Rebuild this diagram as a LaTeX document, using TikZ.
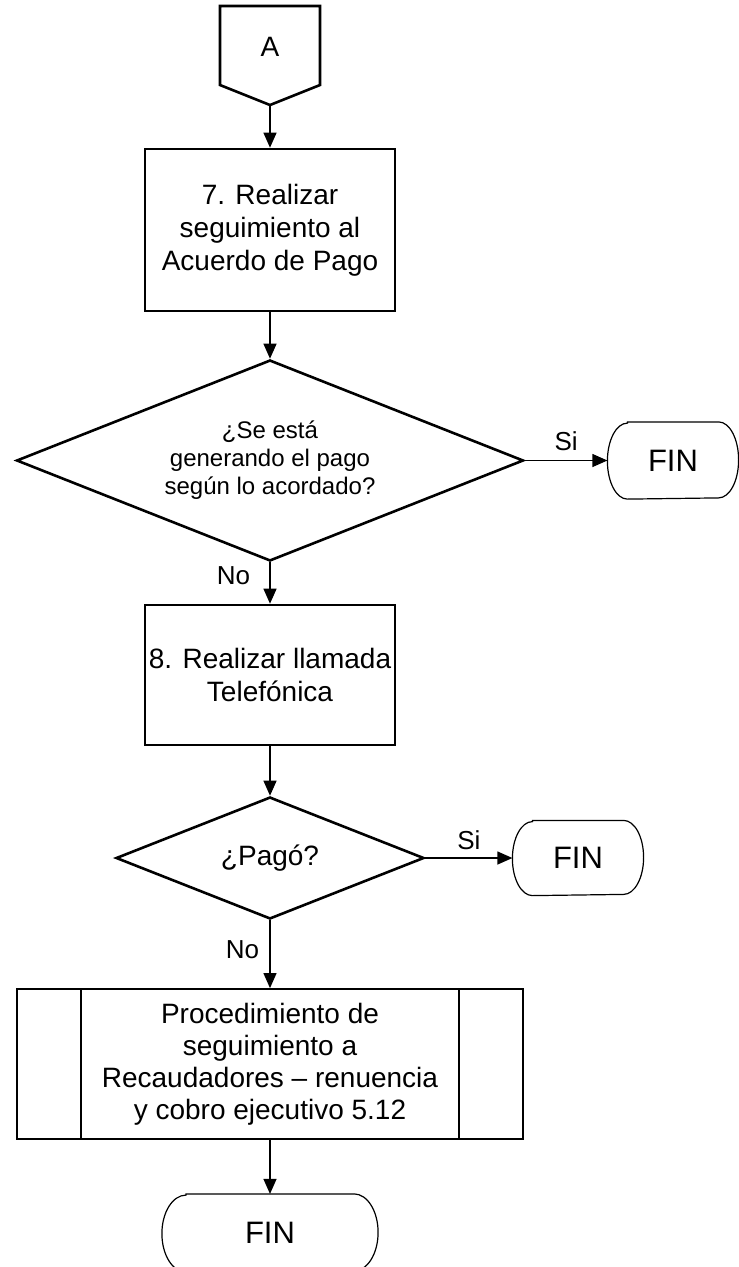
\documentclass[tikz,border=0pt]{standalone}
\usepackage{fontspec}
\setmainfont{Liberation Sans}
\usetikzlibrary{shapes.geometric,arrows.meta}

\tikzset{
  proc/.style={rectangle, draw, line width=2.6pt, inner sep=0pt, minimum width=250pt,
    align=center, font=\fontsize{28}{33}\selectfont},
  dec/.style={diamond, draw, line width=2.6pt, inner sep=0pt, aspect=2.52, align=center},
  fin/.style={rectangle, inner sep=0pt, outer sep=0.6pt, font=\fontsize{31}{36}\selectfont},
  subproc/.style={rectangle, draw, line width=1.8pt, inner sep=0pt, align=center,
    font=\fontsize{28}{32}\selectfont,
    path picture={
      \draw[line width=1.8pt] ([xshift=64pt]path picture bounding box.north west) -- ([xshift=64pt]path picture bounding box.south west);
      \draw[line width=1.8pt] ([xshift=-64pt]path picture bounding box.north east) -- ([xshift=-64pt]path picture bounding box.south east);
    }},
  lbl/.style={font=\fontsize{26}{30}\selectfont},
  flow/.style={->, line width=1.2pt}
}
% terminator outline: node name, end radius, half height
\newcommand{\finborder}[3]{%
  \draw[line width=1.2pt] ([xshift=#2]#1.north west) -- ([xshift=-#2]#1.north east)
    arc[start angle=90, end angle=-90, x radius=#2, y radius=#3]
    -- ([xshift=#2]#1.south west)
    arc[start angle=270, end angle=90, x radius=#2, y radius=#3] -- cycle;}

\begin{document}
\begin{tikzpicture}[x=1pt, y=-1pt, >={Triangle[length=15pt,width=13pt]}]
    \clip (0,0) rectangle (739,1267);
    %off-page connector A
    \draw[line width=2.6pt, line join=miter] (220,6) -- (320,6) -- (320,85) -- (270,105) -- (220,85) -- cycle;
    \node[font=\fontsize{28}{33}\selectfont] (A) at (270,47) {A};
    \coordinate (Apt) at (270,105);

    \node[proc, minimum height=162pt] (seg) at (270,230) {7. Realizar\\seguimiento al\\Acuerdo de Pago};
    \node[dec, minimum width=507pt, minimum height=201pt, font=\fontsize{24}{28}\selectfont] (pago) at (270,460.5)
        {¿Se está\\generando el pago\\según lo acordado?};
    \node[fin, minimum width=130pt, minimum height=76pt] (fin1) at (673,460.5) {FIN};
    \node[proc, minimum height=140pt] (llam) at (270,675) {8. Realizar llamada\\Telefónica};
    \node[dec, minimum width=308pt, minimum height=122pt, font=\fontsize{28}{33}\selectfont] (pagoq) at (270,858) {¿Pagó?};
    \node[fin, minimum width=130pt, minimum height=74pt] (fin2) at (578,858) {FIN};
    \node[subproc, minimum width=506pt, minimum height=150pt] (recaud) at (270,1064)
        {Procedimiento de\\seguimiento a\\Recaudadores – renuencia\\y cobro ejecutivo 5.12};
    \node[fin, minimum width=215pt, minimum height=77pt] (fin3) at (270,1233) {FIN};
    \finborder{fin1}{20pt}{38pt}
    \finborder{fin2}{20pt}{37pt}
    \finborder{fin3}{24pt}{38.5pt}

    %connectors
    \draw[flow] (Apt) -- (seg.north);
    \draw[flow] (seg.south) -- (pago.north);
    \draw[flow] (pago.east) -- node[lbl, above=6pt] {Si} (fin1.west);
    \draw[flow] (pago.south) -- node[lbl, left=16pt, pos=0.32] {No} (llam.north);
    \draw[flow] (llam.south) -- (pagoq.north);
    \draw[flow] (pagoq.east) -- node[lbl, above=4pt] {Si} (fin2.west);
    \draw[flow] (pagoq.south) -- node[lbl, left=7pt, pos=0.44] {No} (recaud.north);
    \draw[flow] (recaud.south) -- (fin3.north);
\end{tikzpicture}
\end{document}
